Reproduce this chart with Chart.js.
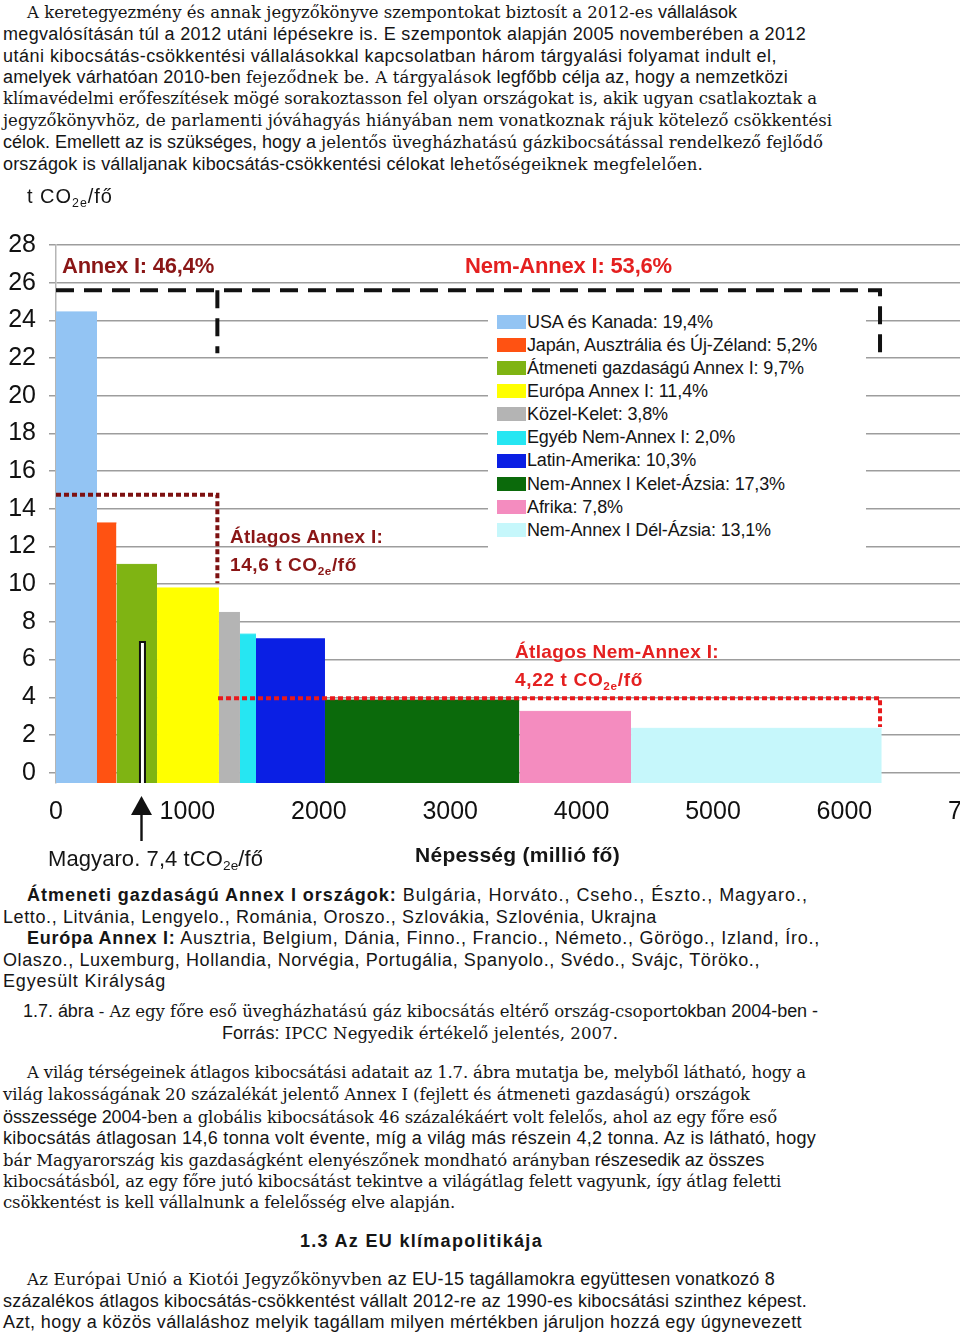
<!DOCTYPE html>
<html lang="hu">
<head>
<meta charset="utf-8">
<script src="https://cdn.jsdelivr.net/npm/chart.js@4.4.1/dist/chart.umd.min.js"></script>
<style>
  html, body { margin: 0; padding: 0; background: #fff; }
  body { width: 960px; height: 1337px; position: relative; overflow: hidden; color: #151515;
         font-family: "Liberation Sans", Arial, sans-serif; }
  .ln { position: absolute; font-size: 18px; line-height: 1; white-space: nowrap; }
  .r { font-family: "DejaVu Serif", "Liberation Serif", serif; font-size: 16.5px; }
  .s { font-family: "Liberation Sans", Arial, sans-serif; font-size: 18px; }
  .ln.r { margin-top: 1px; }
  #grafikonDoboz { position: absolute; left: 0; top: 180px; width: 1100px; height: 700px; z-index: 0; }
  .lbl { position: absolute; white-space: nowrap; line-height: 1; z-index: 2; }
  .lbl sub { font-size: 62%; vertical-align: baseline; position: relative; top: 0.32em; }
  .sotet { color: #8a1616; font-weight: bold; }
  .piros { color: #e42020; font-weight: bold; }
  #jelmagyarazat { position: absolute; left: 488px; top: 306px; width: 378px; height: 248px; background: #fff; z-index: 1; }
  .sw { position: absolute; left: 9px; width: 29px; height: 14px; }
  .it { position: absolute; left: 39px; font-size: 18px; line-height: 1; white-space: nowrap; }
</style>
</head>
<body>

<div class="ln" style="left:27px;top:3px" data-w="710"><span class="r">A keretegyezmény és annak jegyzőkönyve szempontokat biztosít a 2012-es</span> <span class="s">vállalások</span></div>
<div class="ln s" style="left:3px;top:25px" data-w="803">megvalósításán túl a 2012 utáni lépésekre is. E szempontok alapján 2005 novemberében a 2012</div>
<div class="ln s" style="left:3px;top:47px" data-w="774">utáni kibocsátás-csökkentési vállalásokkal kapcsolatban három tárgyalási folyamat indult el,</div>
<div class="ln" style="left:3px;top:68px" data-w="785"><span class="s">amelyek várhatóan 2010-ben</span> <span class="r">fejeződnek be. A tárgyaláso</span><span class="s">k legfőbb célja az, hogy a nemzetközi</span></div>
<div class="ln r" style="left:3px;top:90px" data-w="814">klímavédelmi erőfeszítések mögé sorakoztasson fel olyan országokat is, akik ugyan csatlakoztak a</div>
<div class="ln r" style="left:3px;top:112px" data-w="829">jegyzőkönyvhöz, de parlamenti jóváhagyás hiányában nem vonatkoznak rájuk kötelező csökkentési</div>
<div class="ln" style="left:3px;top:133px" data-w="820"><span class="s">célok. Emellett az is szükséges, hogy a</span> <span class="r">jelentős üvegházhatású gázkibocsátással rendelkező fejlődő</span></div>
<div class="ln" style="left:3px;top:155px" data-w="700"><span class="s">országok is vállaljanak kibocsátás-csökkentési célokat le</span><span class="r">hetőségeiknek megfelelően.</span></div>

<div id="grafikonDoboz"><canvas id="grafikon" width="1100" height="700"></canvas></div>

<div class="lbl" style="left:27px;top:186px;font-size:20px" data-w="86">t CO<sub>2e</sub>/fő</div>
<div class="lbl sotet" style="left:62px;top:255px;font-size:22px" data-w="152">Annex I: 46,4%</div>
<div class="lbl piros" style="left:465px;top:255px;font-size:22px" data-w="207">Nem-Annex I: 53,6%</div>
<div class="lbl sotet" style="left:230px;top:527px;font-size:19px" data-w="153">Átlagos Annex I:</div>
<div class="lbl sotet" style="left:230px;top:555px;font-size:19px" data-w="127">14,6 t CO<sub>2e</sub>/fő</div>
<div class="lbl piros" style="left:515px;top:642px;font-size:19px" data-w="204">Átlagos Nem-Annex I:</div>
<div class="lbl piros" style="left:515px;top:670px;font-size:19px" data-w="128">4,22 t CO<sub>2e</sub>/fő</div>
<div class="lbl" style="left:48px;top:848px;font-size:22px" data-w="215">Magyaro. 7,4 tCO<sub>2e</sub>/fő</div>
<div class="lbl" style="left:415px;top:844px;font-size:21px;font-weight:bold" data-w="205">Népesség (millió fő)</div>
<svg style="position:absolute;left:131px;top:796px;z-index:2" width="21" height="45">
  <polygon points="10.5,0 21,19 0,19" fill="#111"/>
  <rect x="9.3" y="18" width="2.4" height="27" fill="#111"/>
</svg>

<div id="jelmagyarazat"></div>

<div class="ln s" style="left:27px;top:886px" data-w="781"><b>Átmeneti gazdaságú Annex I országok:</b> Bulgária, Horváto., Cseho., Észto., Magyaro.,</div>
<div class="ln s" style="left:3px;top:908px" data-w="654">Letto., Litvánia, Lengyelo., Románia, Oroszo., Szlovákia, Szlovénia, Ukrajna</div>
<div class="ln s" style="left:27px;top:929px" data-w="793"><b>Európa Annex I:</b> Ausztria, Belgium, Dánia, Finno., Francio., Németo., Görögo., Izland, Íro.,</div>
<div class="ln s" style="left:3px;top:951px" data-w="757">Olaszo., Luxemburg, Hollandia, Norvégia, Portugália, Spanyolo., Svédo., Svájc, Töröko.,</div>
<div class="ln s" style="left:3px;top:972px" data-w="163">Egyesült Királyság</div>
<div class="ln" style="left:23px;top:1002px" data-w="795"><span class="s">1.7. ábra</span> <span class="r">- Az egy főre eső üvegházhatású gáz kibocsátás eltérő ország-csoport</span><span class="s">okban 2004-ben -</span></div>
<div class="ln" style="left:222px;top:1024px" data-w="396"><span class="s">Forrás:</span> <span class="r">IPCC Negyedik értékelő jelentés, 2007.</span></div>

<div class="ln r" style="left:27px;top:1064px" data-w="779">A világ térségeinek átlagos kibocsátási adatait az 1.7. ábra mutatja be, melyből látható, hogy a</div>
<div class="ln r" style="left:3px;top:1086px" data-w="747">világ lakosságának 20 százalékát jelentő Annex I (fejlett és átmeneti gazdaságú) országok</div>
<div class="ln" style="left:3px;top:1108px" data-w="774"><span class="s">összessége 2004-</span><span class="r">ben a globális kibocsátások 46 százalékáért volt felelős, ahol az egy főre eső</span></div>
<div class="ln s" style="left:3px;top:1129px" data-w="813">kibocsátás átlagosan 14,6 tonna volt évente, míg a világ más részein 4,2 tonna. Az is látható, hogy</div>
<div class="ln" style="left:3px;top:1151px" data-w="761"><span class="r">bár Magyarország kis gazdaságként elenyészőnek mondható arányban</span> <span class="s">részesedik az összes</span></div>
<div class="ln r" style="left:3px;top:1173px" data-w="778">kibocsátásból, az egy főre jutó kibocsátást tekintve a világátlag felett vagyunk, így átlag feletti</div>
<div class="ln r" style="left:3px;top:1194px" data-w="452">csökkentést is kell vállalnunk a felelősség elve alapján.</div>
<div class="ln s" style="left:300px;top:1232px;font-weight:bold" data-w="243">1.3 Az EU klímapolitikája</div>
<div class="ln" style="left:27px;top:1270px" data-w="748"><span class="r">Az Európai Unió a Kiotói Jegyzőkönyvben</span> <span class="s">az EU-15 tagállamokra együttesen vonatkozó 8</span></div>
<div class="ln s" style="left:3px;top:1292px" data-w="804">százalékos átlagos kibocsátás-csökkentést vállalt 2012-re az 1990-es kibocsátási szinthez képest.</div>
<div class="ln s" style="left:3px;top:1313px" data-w="799">Azt, hogy a közös vállaláshoz melyik tagállam milyen mértékben járuljon hozzá egy úgynevezett</div>

<script>
// régiók, sorrendben balról jobbra
const regiok = ["USA és Kanada", "Japán, Ausztrália és Új-Zéland", "Átmeneti gazdaságú Annex I",
  "Európa Annex I", "Közel-Kelet", "Egyéb Nem-Annex I", "Latin-Amerika",
  "Nem-Annex I Kelet-Ázsia", "Afrika", "Nem-Annex I Dél-Ázsia"];
const reszesedes = ["19,4", "5,2", "9,7", "11,4", "3,8", "2,0", "10,3", "17,3", "7,8", "13,1"];
const nepesseg = [312, 148, 309, 471, 160, 122, 525, 1479, 850, 1908];   // millió fő
const fejenkent = [24.45, 13.25, 11.05, 9.8, 8.5, 7.35, 7.1, 3.85, 3.25, 2.35]; // t CO2e/fő
const szinek = ["#93c4f3", "#ff5212", "#7fb413", "#ffff00", "#b4b4b4", "#26e6f2",
  "#0a1fe4", "#0b6a0b", "#f48cbf", "#c6f7fb"];

const xErtekek = [0, 1000, 2000, 3000, 4000, 5000, 6000, 7000];
const yErtekek = [0, 2, 4, 6, 8, 10, 12, 14, 16, 18, 20, 22, 24, 26, 28];

// keret vonal (Annex I / Nem-Annex I tartomány)
const keretX = [1228, 6271];
const keretY = [25.6, 22.25];
// átlagok
const annexAtlag = [14.75, 10.05];
const nemAnnexAtlag = [3.95, 2.42];
const nemAnnexKezd = 1233;
// Magyarország jelzés
const magyarX = [639, 677];
const magyarErtek = 6.93;

const alap = -0.55;

function igazit(el) {
  const cel = parseFloat(el.dataset.w);
  el.style.letterSpacing = "0px";
  const w = el.getBoundingClientRect().width;
  const n = el.textContent.length;
  if (n > 1) el.style.letterSpacing = ((cel - w) / n).toFixed(3) + "px";
}

function jelmagyarazat() {
  const doboz = document.getElementById("jelmagyarazat");
  const szelesseg = [186, 290, 277, 181, 141, 208, 169, 258, 96, 244];
  let html = "";
  regiok.forEach((nev, i) => {
    const y = i * 23.1;
    html += `<div class="sw" style="top:${(9 + y).toFixed(1)}px;background:${szinek[i]}"></div>`;
    html += `<div class="it" style="top:${(6.8 + y).toFixed(1)}px" data-w="${szelesseg[i]}">${nev}: ${reszesedes[i]}%</div>`;
  });
  doboz.innerHTML = html;
}

function vonal(pontok, szin, szaggatas, sorrend) {
  return {
    data: pontok.map(p => ({ x: p[0], y: p[1] })),
    borderColor: szin,
    borderWidth: 4,
    borderDash: szaggatas,
    borderCapStyle: "butt",
    borderJoinStyle: "miter",
    fill: false,
    pointRadius: 0,
    order: sorrend
  };
}

function rajzol() {
  const savok = regiok.map((nev, i) => {
    const kezd = nepesseg.slice(0, i).reduce((a, b) => a + b, 0);
    return {
      label: nev,
      data: [{ x: kezd, y: fejenkent[i] }, { x: kezd + nepesseg[i], y: fejenkent[i] }],
      backgroundColor: szinek[i],
      borderColor: szinek[i],
      borderWidth: 1,
      fill: "start",
      pointRadius: 0,
      order: 3
    };
  });

  const magyar = {
    data: [{ x: magyarX[0], y: alap }, { x: magyarX[0], y: magyarErtek },
           { x: magyarX[1], y: magyarErtek }, { x: magyarX[1], y: alap }],
    backgroundColor: "#ffffff",
    borderColor: "#111111",
    borderWidth: 2,
    fill: "start",
    pointRadius: 0,
    order: 2
  };

  const fekete = [18, 10];
  const pontozott = [5, 3];
  const vonalak = [
    vonal([[0, keretY[0]], [keretX[1], keretY[0]], [keretX[1], keretY[1]]], "#111111", fekete, 0),
    vonal([[keretX[0], keretY[0]], [keretX[0], keretY[1]]], "#111111", fekete, 0),
    vonal([[0, annexAtlag[0]], [keretX[0], annexAtlag[0]], [keretX[0], annexAtlag[1]]], "#7d1010", pontozott, 0),
    vonal([[nemAnnexKezd, nemAnnexAtlag[0]], [keretX[1], nemAnnexAtlag[0]], [keretX[1], nemAnnexAtlag[1]]], "#e8191b", pontozott, 0)
  ];

  const betu = { family: "'Liberation Sans', Arial, sans-serif", size: 25 };

  new Chart(document.getElementById("grafikon").getContext("2d"), {
    type: "line",
    data: { datasets: [...vonalak, magyar, ...savok] },
    options: {
      responsive: false,
      animation: false,
      devicePixelRatio: 1,
      layout: { padding: { top: 65, left: 0, right: 0, bottom: 0 } },
      plugins: { legend: { display: false }, tooltip: { enabled: false } },
      elements: { line: { tension: 0 } },
      scales: {
        x: {
          type: "linear",
          min: 0,
          max: 7945,
          grid: { display: false },
          border: { display: false },
          afterBuildTicks: s => { s.ticks = xErtekek.map(v => ({ value: v })); },
          afterFit: s => { s.height = 97; },
          ticks: { autoSkip: false, maxRotation: 0, padding: 6, color: "#111", font: betu, callback: v => String(v) }
        },
        y: {
          type: "linear",
          min: alap,
          max: 28,
          afterBuildTicks: s => { s.ticks = yErtekek.map(v => ({ value: v })); },
          afterFit: s => { s.width = 56; },
          grid: { color: "#9d9d9d", lineWidth: 1.5, tickLength: 7 },
          border: { display: true, color: "#b5b5b5", width: 1.5 },
          ticks: { padding: 13, color: "#111", font: betu, callback: v => String(v) }
        }
      }
    }
  });
}

document.addEventListener("DOMContentLoaded", function () {
  jelmagyarazat();
  document.querySelectorAll("[data-w]").forEach(igazit);
  rajzol();
});
</script>
</body>
</html>
